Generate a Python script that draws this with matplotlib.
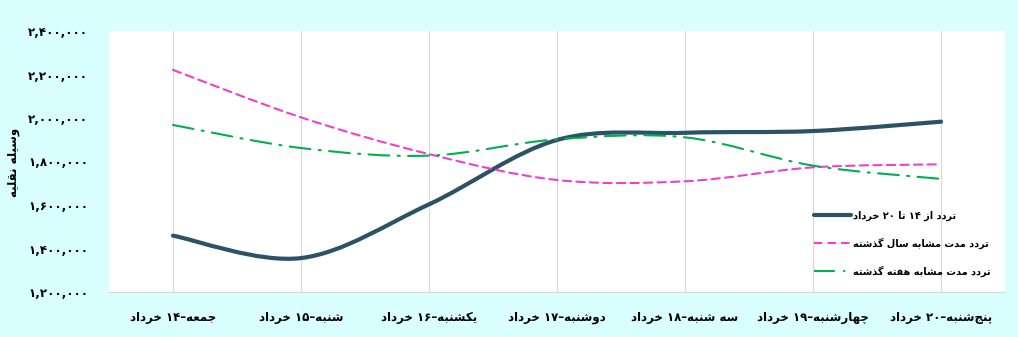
import matplotlib
matplotlib.use('Agg')
import matplotlib.pyplot as plt
from matplotlib.path import Path
from matplotlib.patches import PathPatch
from matplotlib.lines import Line2D
import numpy as np

# Datos
dias = ['جمعه–۱۴ خرداد', 'شنبه–۱۵ خرداد', 'یکشنبه–۱۶ خرداد', 'دوشنبه–۱۷ خرداد',
        'سه شنبه–۱۸ خرداد', 'چهارشنبه–۱۹ خرداد', 'پنج\u200cشنبه–۲۰ خرداد']
trafico_actual = [1459000, 1356000, 1603000, 1899000, 1932000, 1940000, 1983000]
trafico_ano_pasado = [2221000, 2003000, 1834000, 1715000, 1709000, 1773000, 1787000]
trafico_semana_pasada = [1968000, 1862000, 1827000, 1902000, 1911000, 1781000, 1720000]
nombres_series = ['تردد از ۱۴ تا ۲۰ خرداد', 'تردد مدت مشابه سال گذشته', 'تردد مدت مشابه هفته گذشته']
ticks_y = [1200000, 1400000, 1600000, 1800000, 2000000, 2200000, 2400000]
titulo_y = 'وسیله نقلیه'

# --- formas de presentación árabes (matplotlib no hace shaping) ---
FORMAS = {
    'ا': (0xFE8D, 0xFE8E), 'د': (0xFEA9, 0xFEAA), 'ذ': (0xFEAB, 0xFEAC),
    'ر': (0xFEAD, 0xFEAE), 'ز': (0xFEAF, 0xFEB0), 'و': (0xFEED, 0xFEEE),
    'ب': (0xFE8F, 0xFE90, 0xFE91, 0xFE92), 'ت': (0xFE95, 0xFE96, 0xFE97, 0xFE98),
    'ج': (0xFE9D, 0xFE9E, 0xFE9F, 0xFEA0), 'خ': (0xFEA5, 0xFEA6, 0xFEA7, 0xFEA8),
    'س': (0xFEB1, 0xFEB2, 0xFEB3, 0xFEB4), 'ش': (0xFEB5, 0xFEB6, 0xFEB7, 0xFEB8),
    'ع': (0xFEC9, 0xFECA, 0xFECB, 0xFECC), 'ف': (0xFED1, 0xFED2, 0xFED3, 0xFED4),
    'ق': (0xFED5, 0xFED6, 0xFED7, 0xFED8), 'ل': (0xFEDD, 0xFEDE, 0xFEDF, 0xFEE0),
    'م': (0xFEE1, 0xFEE2, 0xFEE3, 0xFEE4), 'ن': (0xFEE5, 0xFEE6, 0xFEE7, 0xFEE8),
    'ه': (0xFEE9, 0xFEEA, 0xFEEB, 0xFEEC), 'پ': (0xFB56, 0xFB57, 0xFB58, 0xFB59),
    'چ': (0xFB7A, 0xFB7B, 0xFB7C, 0xFB7D), 'ک': (0xFB8E, 0xFB8F, 0xFB90, 0xFB91),
    'گ': (0xFB92, 0xFB93, 0xFB94, 0xFB95), 'ی': (0xFBFC, 0xFBFD, 0xFBFE, 0xFBFF),
}
DIGITOS = set('۰۱۲۳۴۵۶۷۸۹0123456789,')


def persa(texto):
    out = []
    for i, c in enumerate(texto):
        if c not in FORMAS:
            out.append(c)
            continue
        prev = texto[i - 1] if i > 0 else ''
        nxt = texto[i + 1] if i + 1 < len(texto) else ''
        une_prev = prev in FORMAS and len(FORMAS[prev]) == 4
        une_sig = nxt in FORMAS and len(FORMAS[c]) == 4
        f = FORMAS[c]
        if une_prev and une_sig:
            out.append(chr(f[3]))
        elif une_prev:
            out.append(chr(f[1]))
        elif une_sig:
            out.append(chr(f[2]))
        else:
            out.append(chr(f[0]))
    s = ''.join(out).replace('\u200c', '')
    # orden visual: invertir todo, dejando los números en su orden
    s = s[::-1]
    res, buf = [], []
    for c in s:
        if c in DIGITOS:
            buf.append(c)
        else:
            if buf:
                res.append(''.join(buf[::-1]))
                buf = []
            res.append(c)
    if buf:
        res.append(''.join(buf[::-1]))
    return ''.join(res)


def num_persa(v):
    tabla = str.maketrans('0123456789', '۰۱۲۳۴۵۶۷۸۹')
    return f'{v:,}'.translate(tabla)


def curva_suave(xs, ys):
    # spline tipo Excel (Catmull-Rom convertido a Bezier)
    pts = np.column_stack([xs, ys]).astype(float)
    verts = [pts[0]]
    codes = [Path.MOVETO]
    n = len(pts)
    for i in range(n - 1):
        p0 = pts[i - 1] if i > 0 else pts[i]
        p1, p2 = pts[i], pts[i + 1]
        p3 = pts[i + 2] if i + 2 < n else pts[i + 1]
        c1 = p1 + (p2 - p0) / 6.0
        c2 = p2 - (p3 - p1) / 6.0
        verts += [c1, c2, p2]
        codes += [Path.CURVE4] * 3
    return Path(verts, codes)


plt.rcParams['font.family'] = ['DejaVu Sans']
plt.rcParams['font.weight'] = 'bold'

fondo = '#DAFFFF'
fig = plt.figure(figsize=(10.18, 3.37), dpi=100, facecolor=fondo)
ax = fig.add_axes([109 / 1018, 45 / 337, 896 / 1018, 261 / 337])
ax.set_facecolor('white')

x = np.arange(len(dias))
estilos = [
    dict(color='#2C5266', lw=3.0, ls='-'),
    dict(color='#EE40C8', lw=1.5, ls=(0, (4, 2.5))),
    dict(color='#00B050', lw=1.5, ls=(0, (10, 4, 1, 4))),
]
series = [trafico_actual, trafico_ano_pasado, trafico_semana_pasada]
handles = []
for datos, est, nombre in zip(series, estilos, nombres_series):
    patch = PathPatch(curva_suave(x, datos), facecolor='none', edgecolor=est['color'],
                      lw=est['lw'], ls=est['ls'], capstyle='round', zorder=3)
    ax.add_patch(patch)
    handles.append(Line2D([], [], color=est['color'], lw=est['lw'], ls=est['ls'],
                          solid_capstyle='round', label=persa(nombre)))

ax.set_xlim(-0.5, len(dias) - 0.5)
ax.set_ylim(ticks_y[0], ticks_y[-1])
ax.set_xticks(x)
ax.set_xticklabels([persa(d) for d in dias], fontsize=8.5, fontweight='bold')
ax.set_yticks(ticks_y)
ax.set_yticklabels([num_persa(v) for v in ticks_y], fontsize=8.6, fontweight='bold')
ax.tick_params(axis='both', length=0)
ax.tick_params(axis='x', pad=14)
ax.tick_params(axis='y', pad=15)
ax.grid(axis='x', color='#D9D9D9', lw=0.8)
ax.set_axisbelow(True)
for lado in ['top', 'right', 'left']:
    ax.spines[lado].set_visible(False)
ax.spines['bottom'].set_color('#D9D9D9')

fig.text(14 / 1018, 1 - 162 / 337, persa(titulo_y), rotation=90, ha='center', va='center',
         fontsize=8.5, fontweight='bold')

leg = fig.legend(handles=handles, loc='upper left', bbox_to_anchor=(805 / 1018, 1 - 202 / 337),
                 frameon=False, handlelength=3.8, handletextpad=0.2,
                 labelspacing=1.7, prop={'weight': 'bold', 'size': 7})

fig.savefig('out.png', dpi=100, facecolor=fondo)
